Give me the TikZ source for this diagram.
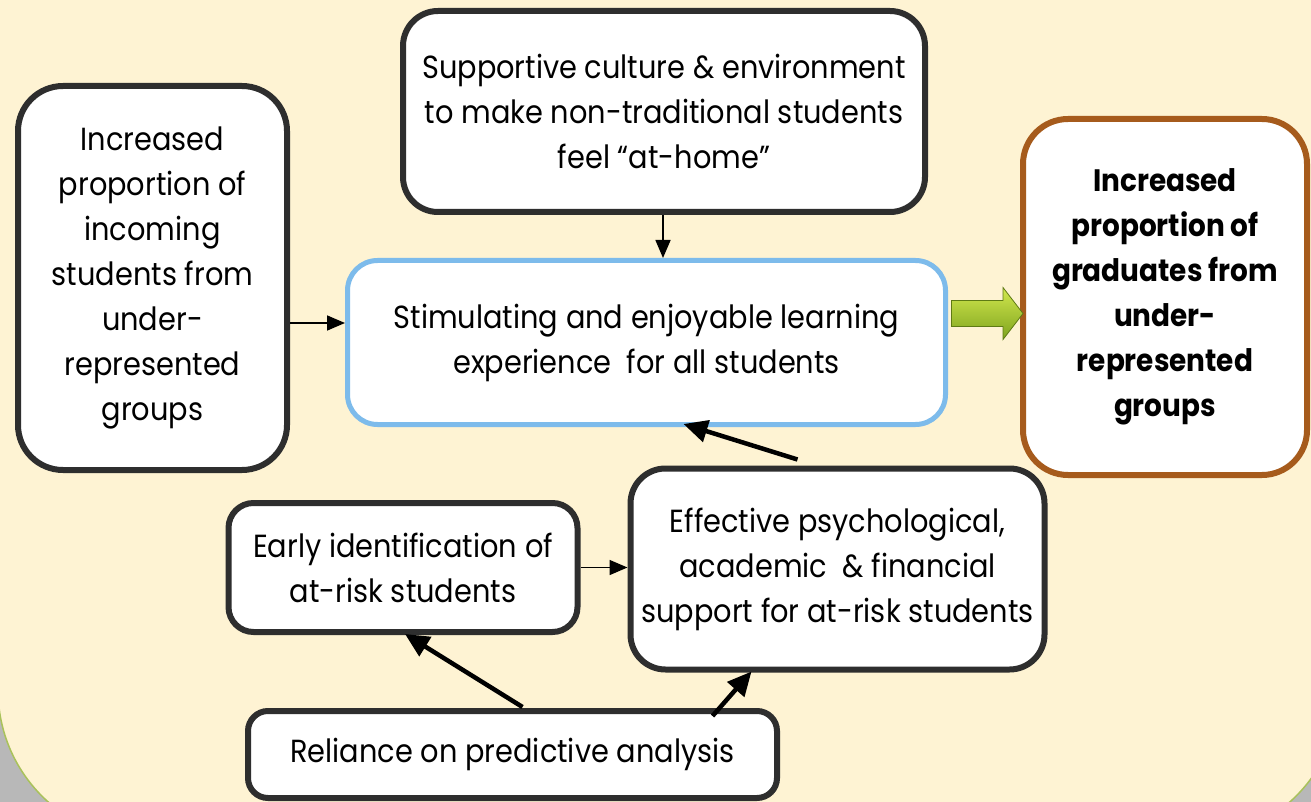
\documentclass[tikz,border=0pt]{standalone}
\usepackage{fontspec}
\setmainfont{Poppins}[FakeStretch=0.9]
\usetikzlibrary{arrows.meta,calc}
\definecolor{cream}{HTML}{FEF3D3}
\definecolor{boxdark}{HTML}{2E2E2E}
\definecolor{boxblue}{HTML}{7DBBEB}
\definecolor{boxbrown}{HTML}{A65B1C}
\definecolor{panelgreen}{HTML}{A9C25A}
\definecolor{outgrey}{HTML}{B8B8B8}
\definecolor{gtop}{HTML}{D2E84E}
\definecolor{gbot}{HTML}{7EA31E}
\definecolor{gline}{HTML}{5E7A14}
\begin{document}
\begin{tikzpicture}[x=1pt,y=-1pt,
  box/.style={draw=boxdark, line width=6pt, fill=white, align=center, inner sep=0pt,
    font=\fontsize{32}{45}\selectfont},
  thinarrow/.style={-{Triangle[length=18pt,width=15pt]}, line width=1.6pt, black},
  thickarrow/.style={-{Triangle[length=24pt,width=22pt]}, line width=4.5pt, black}]
\useasboundingbox (0,0) rectangle (1311,802);
\fill[outgrey] (0,0) rectangle (1311,802);
\draw[fill=cream, draw=panelgreen, line width=1.5pt, rounded corners=150pt] (-2,-150) rectangle (1340,840);

\node[box, rounded corners=45pt, minimum width=269pt, minimum height=384pt] (L) at (152.5,278)
  {Increased\\proportion of\\incoming\\students from\\under-\\represented\\groups};
\node[box, rounded corners=35pt, minimum width=522pt, minimum height=201pt] (T) at (664,111.5)
  {Supportive culture \& environment\\to make non-traditional students\\feel ``at-home''};
\node[box, draw=boxblue, line width=5pt, rounded corners=30pt, minimum width=598pt, minimum height=164pt] (C) at (646.5,342.5)
  {Stimulating and enjoyable learning\\experience\ \ for all students};
\node[box, draw=boxbrown, rounded corners=45pt, minimum width=284pt, minimum height=356pt,
  font=\fontsize{31}{45}\selectfont\bfseries] (R) at (1165,297)
  {Increased\\proportion of\\graduates from\\under-\\represented\\groups};
\node[box, rounded corners=25pt, minimum width=349pt, minimum height=129pt] (Ea) at (403,567.5)
  {Early identification of\\at-risk students};
\node[box, rounded corners=35pt, minimum width=414pt, minimum height=201pt] (E) at (837.5,569)
  {Effective psychological,\\academic\ \ \& financial\\support for at-risk students};
\node[box, rounded corners=20pt, minimum width=529pt, minimum height=87pt] (Rp) at (512.5,754.5)
  {Reliance on predictive analysis};

% connectors
\draw[thinarrow] ([yshift=-45pt]L.east) -- ([yshift=-45pt]L.east -| C.west);
\draw[thinarrow] ([xshift=-1pt]T.south) -- ([xshift=-1pt]T.south |- C.north);
\draw[thinarrow] (Ea.east) -- (Ea.east -| E.west);
\draw[thickarrow] ([xshift=-40pt,yshift=6pt]E.north) -- ([xshift=37pt,yshift=3pt]C.south);
\draw[thickarrow] ([xshift=10pt,yshift=1pt]Rp.north) -- ([xshift=2pt,yshift=1pt]Ea.south);
\draw[thickarrow] ([xshift=200pt,yshift=-8pt]Rp.north) -- ([xshift=-86pt,yshift=1pt]E.south);

% green block arrow
\coordinate (gs) at ($(C.east)+(3.5,-29)$);
\coordinate (gt) at ($(gs -| R.west)+(3,0)$);
\shade[top color=gtop, bottom color=gbot, draw=gline, line width=0.8pt]
  let \p1=(gs), \p2=(gt) in
  (\x1,\y1+13pt) -- (\x2-20pt,\y1+13pt) -- (\x2-20pt,\y1+26pt) -- (\x2,\y1)
  -- (\x2-20pt,\y1-26pt) -- (\x2-20pt,\y1-13pt) -- (\x1,\y1-13pt) -- cycle;
\end{tikzpicture}
\end{document}
